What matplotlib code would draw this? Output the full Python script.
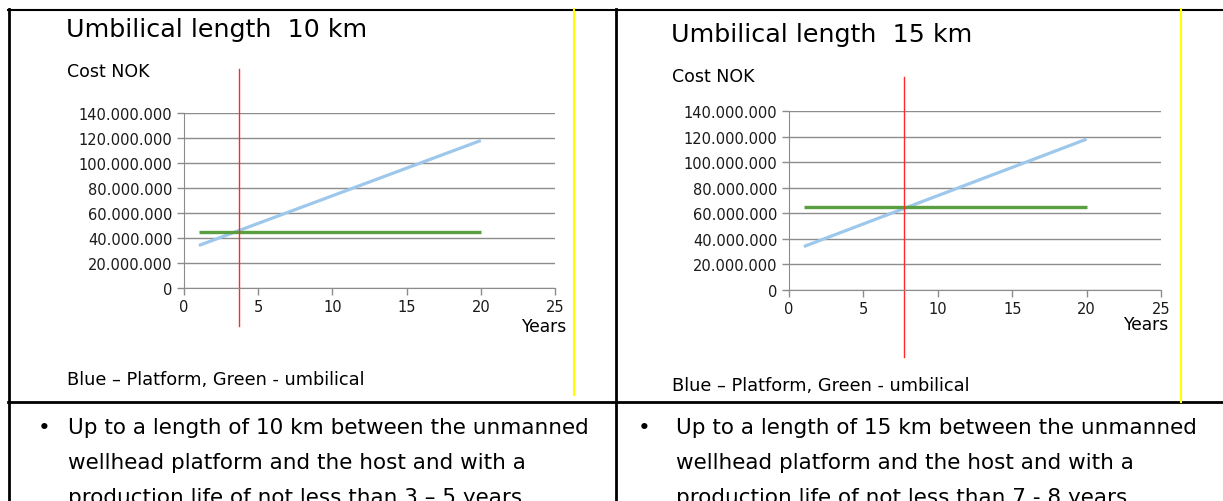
import matplotlib.pyplot as plt
from matplotlib.lines import Line2D
from matplotlib.ticker import FuncFormatter

W, H = 1223, 502

# data
years = [1, 20]
platform_10 = [34e6, 118e6]
umbilical_10 = [45e6, 45e6]
breakeven_10 = 3.72

platform_15 = [34e6, 118e6]
umbilical_15 = [65e6, 65e6]
breakeven_15 = 7.73

y_ticks = [0, 20e6, 40e6, 60e6, 80e6, 100e6, 120e6, 140e6]
x_ticks = [0, 5, 10, 15, 20, 25]

bullets = [
    ["Up to a length of 10 km between the unmanned",
     "wellhead platform and the host and with a",
     "production life of not less than 3 \u2013 5 years"],
    ["Up to a length of 15 km between the unmanned",
     "wellhead platform and the host and with a",
     "production life of not less than 7 - 8 years"],
]

fig = plt.figure(figsize=(W / 100, H / 100), dpi=100)


def fx(px):
    return px / W


def fy(py):
    return 1 - py / H


def dots(v, pos):
    return f"{int(v):,}".replace(",", ".")


def hline(x0, x1, y, color="black", lw=2):
    fig.add_artist(Line2D([fx(x0), fx(x1)], [fy(y), fy(y)], color=color, lw=lw))


def vline(x, y0, y1, color="black", lw=2):
    fig.add_artist(Line2D([fx(x), fx(x)], [fy(y0), fy(y1)], color=color, lw=lw))


# table borders
hline(8, 1223, 10.5, lw=1.5)
hline(8, 1223, 403)
vline(8.5, 10, 502)
vline(616, 10, 502)
vline(573.5, 10, 396, color="#ffff00", lw=1.5)
vline(1180.5, 10, 403, color="#ffff00", lw=1.5)


def chart(left, right, top, bottom, platform, umbilical, be, red_top, red_bot,
          title, title_xy, cost_xy, years_xy, note_xy):
    ax = fig.add_axes([fx(left), fy(bottom), fx(right - left), (bottom - top) / H])
    ax.plot(years, platform, color="#9dc8ec", lw=2.3, solid_capstyle="butt")
    ax.plot(years, umbilical, color="#5a9e42", lw=2.4, solid_capstyle="butt")
    h = bottom - top
    ax.axvline(be, ymin=(bottom - red_bot) / h, ymax=(bottom - red_top) / h,
               color="#ff2a2a", lw=1, clip_on=False)
    ax.set_xlim(0, 25)
    ax.set_ylim(0, 140e6)
    ax.set_xticks(x_ticks)
    ax.set_yticks(y_ticks)
    ax.yaxis.set_major_formatter(FuncFormatter(dots))
    ax.grid(axis="y", color="#8c8c8c", lw=1)
    ax.set_axisbelow(True)
    for s in ["top", "right"]:
        ax.spines[s].set_visible(False)
    for s in ["left", "bottom"]:
        ax.spines[s].set_color("#8c8c8c")
    ax.tick_params(colors="#8c8c8c", labelcolor="#1a1a1a", labelsize=10.5,
                   length=5, width=1)
    ax.tick_params(axis="x", pad=3)
    fig.text(fx(title_xy[0]), fy(title_xy[1]), title, fontsize=18.3, va="center")
    fig.text(fx(cost_xy[0]), fy(cost_xy[1]), "Cost NOK", fontsize=12.5, va="center")
    fig.text(fx(years_xy[0]), fy(years_xy[1]), "Years", fontsize=12.3,
             va="center", ha="right")
    fig.text(fx(note_xy[0]), fy(note_xy[1]),
             "Blue \u2013 Platform, Green - umbilical", fontsize=12.8, va="center")


chart(184, 555, 114, 289, platform_10, umbilical_10, breakeven_10, 70, 327,
      "Umbilical length  10 km", (66, 30), (67, 72), (566, 327), (67, 380))
chart(789, 1161, 112, 291, platform_15, umbilical_15, breakeven_15, 78, 358,
      "Umbilical length  15 km", (671, 35), (672, 77), (1168, 325), (672, 386))

for i, lines in enumerate(bullets):
    x0 = 38 if i == 0 else 638
    xt = 68 if i == 0 else 676
    fig.text(fx(x0), fy(428), "\u2022", fontsize=15.4, va="center")
    for j, line in enumerate(lines):
        fig.text(fx(xt), fy(428 + 35 * j), line, fontsize=15.5, va="center")

fig.savefig("out.png", dpi=100)
